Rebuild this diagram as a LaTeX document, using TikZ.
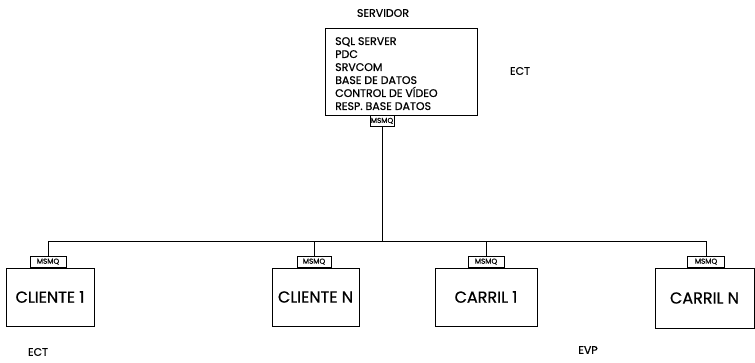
\documentclass[tikz,border=0pt]{standalone}
\usepackage{fontspec}
\setmainfont{Poppins}
\newfontfamily\medf{Poppins}[FakeBold=0.7]
\begin{document}
\begin{tikzpicture}[x=1pt,y=-1pt,
  box/.style={draw,line width=0.9pt,minimum width=#1,minimum height=58pt,inner sep=0pt,font=\medf\fontsize{16}{17}\selectfont},
  tab/.style={draw,line width=0.8pt,minimum width=#1,minimum height=11pt,inner sep=0pt,font=\medf\fontsize{7.2}{8}\selectfont},
  lbl/.style={inner sep=0pt,font=\medf\fontsize{11}{12}\selectfont},
  wire/.style={line width=0.9pt}]
\useasboundingbox (0,0) rectangle (755,363);
% server
\node[lbl] (srvlbl) at (383,13) {SERVIDOR};
\node[draw,line width=0.9pt,minimum width=152pt,minimum height=87pt,inner sep=0pt] (srv) at (401,71.5) {};
\node[anchor=north west,align=left,inner sep=0pt,font=\medf\fontsize{11}{13}\selectfont] (srvtxt) at (335,37) {SQL SERVER\\PDC\\SRVCOM\\BASE DE DATOS\\CONTROL DE VÍDEO\\RESP. BASE DATOS};
\node[tab=24pt,anchor=north] (stab) at (382,115) {MSMQ};
\node[lbl] (ect1) at (520,71) {ECT};
% clients
\node[box=88pt] (c1) at (50,297) {CLIENTE 1};
\node[box=87pt] (cn) at (315.5,297) {CLIENTE N};
\node[box=102pt] (r1) at (486,297) {CARRIL 1};
\node[box=99pt,minimum height=60pt] (rn) at (704.5,298) {CARRIL N};
\node[tab=36pt,anchor=south] (t1) at (c1.north -| 48,0) {MSMQ};
\node[tab=34pt,anchor=south] (tn) at (cn.north -| 314,0) {MSMQ};
\node[tab=36pt,anchor=south] (tr1) at (r1.north -| 486,0) {MSMQ};
\node[tab=37pt,anchor=south] (trn) at (rn.north -| 706,0) {MSMQ};
\node[lbl] (ect2) at (38,352) {ECT};
\node[lbl] (evp) at (588,350) {EVP};
% wiring
\coordinate (bus) at (382,241);
\draw[wire] (stab.south) -- (bus);
\draw[wire] (t1.north) |- (bus);
\draw[wire] (tn.north) |- (bus);
\draw[wire] (tr1.north) |- (bus);
\draw[wire] (trn.north) |- (bus);
\end{tikzpicture}
\end{document}
